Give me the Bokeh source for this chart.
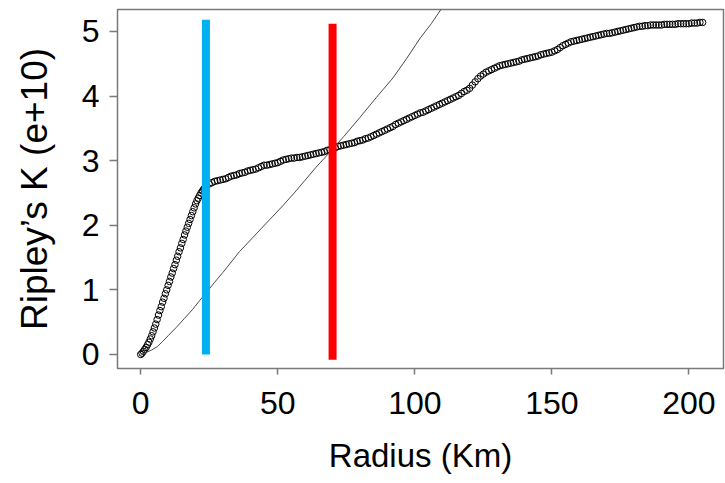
from bokeh.plotting import figure
from bokeh.models import Range1d, FixedTicker, ColumnDataSource
from bokeh.embed import file_html
from bokeh.resources import INLINE

# ---- data (K in units of 1e10) ----
radius_obs = [
    0, 0.5, 1, 1.5, 2, 2.5, 3, 3.5, 4, 4.5, 5, 5.5, 6, 6.5, 7, 7.5, 8, 8.5, 9, 9.5,
    10, 10.5, 11, 11.5, 12, 12.5, 13, 13.5, 14, 14.5, 15, 15.5, 16, 16.5, 17, 17.5,
    18, 18.5, 19, 19.5, 20, 20.5, 21, 21.5, 22, 22.5, 23, 23.5, 24,
    25, 26, 27, 28, 29, 30, 31, 32, 33, 34,
    35, 36, 37, 38, 39, 40, 41, 42, 43, 44,
    45, 46, 47, 48, 49, 50, 51, 52, 53, 54,
    55, 56, 57, 58, 59, 60, 61, 62, 63, 64,
    65, 66, 67, 68, 69, 70, 71, 72, 73, 74,
    75, 76, 77, 78, 79, 80, 81, 82, 83, 84,
    85, 86, 87, 88, 89, 90, 91, 92, 93, 94,
    95, 96, 97, 98, 99, 100, 101, 102, 103, 104,
    105, 106, 107, 108, 109, 110, 111, 112, 113, 114,
    115, 116, 117, 118, 119, 120, 121, 122, 123, 124,
    125, 126, 127, 128, 129, 130, 131, 132, 133, 134,
    135, 136, 137, 138, 139, 140, 141, 142, 143, 144,
    145, 146, 147, 148, 149, 150, 151, 152, 153, 154,
    155, 156, 157, 158, 159, 160, 161, 162, 163, 164,
    165, 166, 167, 168, 169, 170, 171, 172, 173, 174,
    175, 176, 177, 178, 179, 180, 181, 182, 183, 184,
    185, 186, 187, 188, 189, 190, 191, 192, 193, 194,
    195, 196, 197, 198, 199, 200, 201, 202, 203, 204,
    205,
]
k_obs = [
    0.00, 0.02, 0.05, 0.08, 0.11, 0.15, 0.19, 0.24, 0.29, 0.35, 0.41, 0.47, 0.54, 0.61,
    0.68, 0.74, 0.81, 0.87, 0.94, 1.00, 1.07, 1.13, 1.20, 1.26, 1.33, 1.39, 1.46, 1.52,
    1.59, 1.65, 1.72, 1.78, 1.85, 1.91, 1.97, 2.03, 2.09, 2.15, 2.21, 2.27, 2.33, 2.38,
    2.42, 2.46, 2.50, 2.53, 2.56, 2.58, 2.60,
    2.64, 2.66, 2.68, 2.69, 2.70, 2.71, 2.72, 2.74, 2.76, 2.77,
    2.78, 2.80, 2.81, 2.82, 2.84, 2.85, 2.86, 2.87, 2.89, 2.91,
    2.93, 2.93, 2.94, 2.95, 2.96, 2.97, 2.99, 3.01, 3.02, 3.03,
    3.04, 3.04, 3.05, 3.05, 3.06, 3.07, 3.08, 3.09, 3.10, 3.11,
    3.12, 3.13, 3.14, 3.16, 3.17, 3.19, 3.20, 3.22, 3.23, 3.24,
    3.25, 3.26, 3.27, 3.28, 3.30, 3.31, 3.32, 3.34, 3.35, 3.37,
    3.39, 3.41, 3.43, 3.45, 3.47, 3.49, 3.51, 3.53, 3.56, 3.58,
    3.60, 3.62, 3.64, 3.66, 3.68, 3.70, 3.72, 3.74, 3.75, 3.77,
    3.79, 3.81, 3.83, 3.85, 3.87, 3.89, 3.91, 3.93, 3.95, 3.97,
    3.99, 4.01, 4.04, 4.07, 4.09, 4.12, 4.17, 4.22, 4.27, 4.31,
    4.34, 4.37, 4.39, 4.41, 4.43, 4.45, 4.47, 4.48, 4.49, 4.50,
    4.51, 4.52, 4.53, 4.54, 4.56, 4.57, 4.58, 4.59, 4.60, 4.61,
    4.62, 4.64, 4.65, 4.66, 4.67, 4.68, 4.70, 4.72, 4.75, 4.78,
    4.80, 4.82, 4.84, 4.85, 4.86, 4.87, 4.88, 4.89, 4.90, 4.91,
    4.92, 4.93, 4.94, 4.95, 4.96, 4.97, 4.97, 4.98, 4.99, 5.00,
    5.01, 5.02, 5.03, 5.04, 5.05, 5.06, 5.07, 5.08, 5.08, 5.09,
    5.09, 5.10, 5.10, 5.10, 5.10, 5.10, 5.11, 5.11, 5.11, 5.11,
    5.11, 5.12, 5.12, 5.12, 5.12, 5.12, 5.13, 5.13, 5.13, 5.14,
    5.14,
]

radius_theo = [0, 2, 4, 6, 8, 10, 13, 16, 19, 21.6, 24, 27, 30, 33, 36, 40, 44, 48,
               52, 56, 60, 64, 69, 74, 80, 86, 92, 97, 102, 106, 110, 112]
k_theo = [0.00, 0.03, 0.07, 0.12, 0.20, 0.29, 0.42, 0.56, 0.70, 0.84, 0.96, 1.12, 1.27,
          1.43, 1.59, 1.77, 1.95, 2.13, 2.31, 2.50, 2.70, 2.90, 3.13, 3.37, 3.67, 3.98,
          4.28, 4.58, 4.90, 5.12, 5.37, 5.48]

marker_r = [23.8, 70.0]
marker_bottom = [0.0, -0.08]
marker_top = [5.18, 5.12]
marker_colors = ["#00B0F0", "#FF0000"]

x_ticks = [0, 50, 100, 150, 200]
y_ticks = [0, 1, 2, 3, 4, 5]

FONT = "Liberation Sans"
GRAY = "#7a7a7a"

p = figure(width=725, height=483, output_backend="svg", toolbar_location=None,
           x_range=Range1d(-8.46, 212.6), y_range=Range1d(-0.217, 5.34),
           min_border_left=117, min_border_right=2, min_border_top=9,
           min_border_bottom=115)

p.background_fill_color = "white"
p.border_fill_color = "white"
p.outline_line_color = GRAY
p.outline_line_width = 1.5
p.grid.visible = False

p.scatter(radius_obs, k_obs, size=6.5, marker="circle", fill_color=None,
          line_color="black", line_width=1)
p.line(radius_theo, k_theo, line_color="#4a4a4a", line_width=1)

src = ColumnDataSource(dict(x=marker_r, y0=marker_bottom, y1=marker_top, c=marker_colors))
p.segment(x0="x", y0="y0", x1="x", y1="y1", color="c", line_width=8,
          line_cap="butt", source=src)

for ax in (p.xaxis[0], p.yaxis[0]):
    ax.axis_line_color = None
    ax.major_tick_line_color = GRAY
    ax.major_tick_line_width = 1.5
    ax.minor_tick_line_color = None
    ax.major_tick_in = 0
    ax.major_label_text_font = FONT
    ax.major_label_text_color = "black"
    ax.axis_label_text_font = FONT
    ax.axis_label_text_font_style = "normal"
    ax.axis_label_text_color = "black"

p.xaxis.ticker = FixedTicker(ticks=x_ticks)
p.yaxis.ticker = FixedTicker(ticks=y_ticks)

p.xaxis.major_tick_out = 6
p.xaxis.major_label_text_font_size = "32px"
p.xaxis.major_label_standoff = 17
p.xaxis.axis_label = "Radius (Km)"
p.xaxis.axis_label_text_font_size = "33px"
p.xaxis.axis_label_standoff = 20

p.yaxis.major_tick_out = 8
p.yaxis.major_label_text_font_size = "32px"
p.yaxis.major_label_standoff = 10
p.yaxis.axis_label = "Ripley’s K (e+10)"
p.yaxis.axis_label_text_font_size = "37px"
p.yaxis.axis_label_standoff = 24

open("out.html", "w").write(file_html(p, INLINE))
